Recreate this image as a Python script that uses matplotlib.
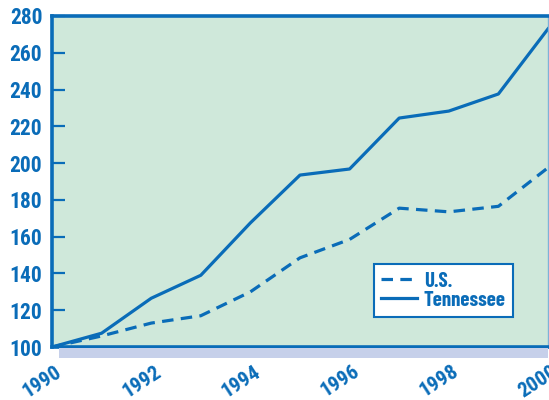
import matplotlib
matplotlib.use("Agg")
import matplotlib.pyplot as plt
from matplotlib.patches import Rectangle

years = [1990, 1991, 1992, 1993, 1994, 1995, 1996, 1997, 1998, 1999, 2000]
us = [100, 106, 113, 117, 130, 148.5, 158.5, 175.5, 173.5, 176.5, 197.5]
tennessee = [100, 107.5, 126.5, 139, 167.5, 193.5, 196.8, 224.5, 228.3, 237.6, 273]
yticks = [100, 120, 140, 160, 180, 200, 220, 240, 260, 280]
xlabels = ["1990", "1992", "1994", "1996", "1998", "2000"]

BLUE = "#0a6cb8"
BG = "#cfe8da"
BAND = "#c6d0ea"
TICKFONT = ["Roboto Condensed", "DejaVu Sans"]
LEGFONT = ["Barlow Condensed", "Roboto Condensed", "DejaVu Sans"]

fig = plt.figure(figsize=(5.49, 4.0), dpi=100)
ax = fig.add_axes([52/549, 53/400, 496/549, 331/400])
ax.set_facecolor(BG)

ax.plot(years, us, color=BLUE, lw=2.3, ls=(0, (3.6, 2.3)), label="U.S.")
ax.plot(years, tennessee, color=BLUE, lw=2.3, label="Tennessee")

ax.set_xlim(1990, 2000)
ax.set_ylim(100, 280)

for s in ["left", "top", "bottom"]:
    ax.spines[s].set_color(BLUE)
    ax.spines[s].set_linewidth(2.6)
ax.spines["right"].set_color("#7fb2d8")
ax.spines["right"].set_linewidth(1.0)

ax.set_yticks(yticks)
ax.set_yticklabels([str(v) for v in yticks], fontfamily=TICKFONT, fontweight="bold",
                   fontsize=15.5, color=BLUE)
ax.tick_params(axis="y", direction="in", length=9, width=1.6, color=BLUE, pad=7)

# bottom band
band = Rectangle((59/549, 42/400), (548-59)/549, 10/400, transform=fig.transFigure,
                 facecolor=BAND, edgecolor="none", zorder=0)
fig.patches.append(band)

ax.set_xticks([1990 + k * 10 / 9 for k in range(1, 9)], minor=True)
ax.tick_params(axis="x", which="minor", direction="out", length=6, width=1.6, color=BLUE)
ax.set_xticks([int(l) for l in xlabels])
ax.set_xticklabels([])
ax.tick_params(axis="x", which="major", length=0)

for lab in xlabels:
    x = int(lab)
    ax.annotate(lab, xy=(x, 100), xycoords="data", xytext=(3, -15),
                textcoords="offset pixels",
                ha="right", va="top", rotation=33, rotation_mode="anchor",
                fontfamily=TICKFONT, fontweight="bold", fontsize=15, color=BLUE,
                annotation_clip=False)

leg = ax.legend(loc="lower right", bbox_to_anchor=(461/496, 30/331), frameon=True,
                fancybox=False, handlelength=1.75, handletextpad=0.3,
                borderpad=0.35, labelspacing=0.0, borderaxespad=0,
                prop={"family": LEGFONT, "weight": "bold", "size": 15})
leg.get_frame().set_edgecolor(BLUE)
leg.get_frame().set_linewidth(1.5)
leg.get_frame().set_facecolor("white")
leg.get_frame().set_alpha(1)
for t in leg.get_texts():
    t.set_color(BLUE)

fig.savefig("out.png", dpi=100)
